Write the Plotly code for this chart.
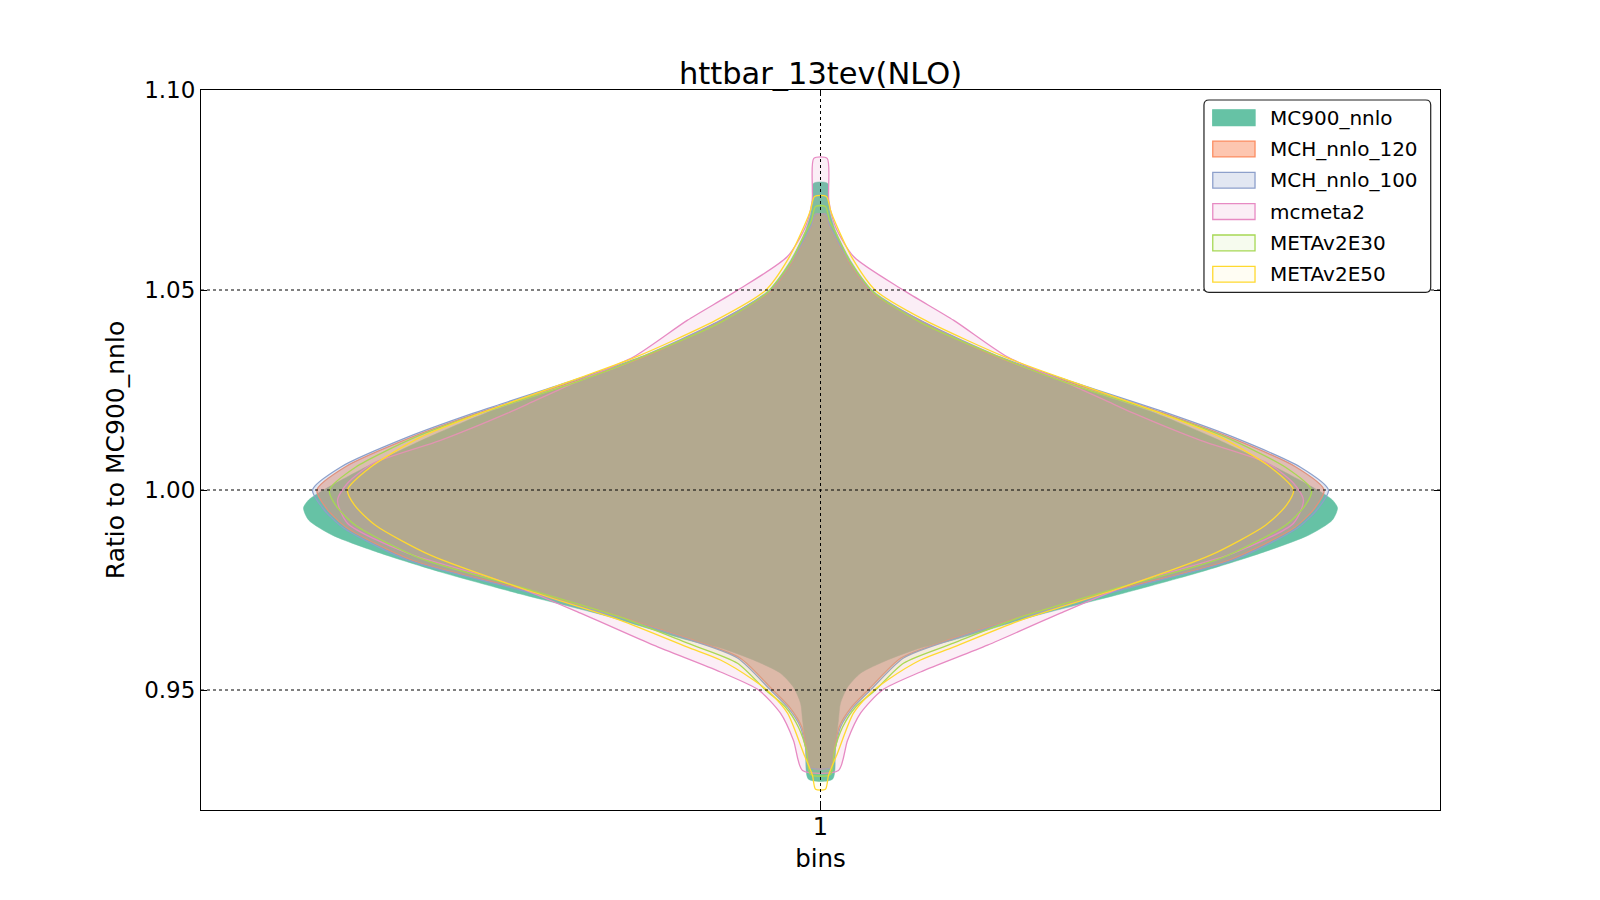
import plotly.graph_objects as go

# ---- data: violin profiles (ratio value, half-width of the density) ----
names = ["MC900_nnlo", "MCH_nnlo_120", "MCH_nnlo_100", "mcmeta2", "METAv2E30", "METAv2E50"]

mc900_y = [1.0767, 1.0724, 1.0689, 1.0649, 1.0574, 1.0499, 1.0424, 1.0324, 1.0267, 1.0192, 1.0132,
           1.0057, 1.0000, 0.9975, 0.9955, 0.9925, 0.9887, 0.9842, 0.9795, 0.9740, 0.9687, 0.9625,
           0.9605, 0.9575, 0.9542, 0.9507, 0.9467, 0.9425, 0.9357, 0.9277]
mc900_w = [0.0056, 0.0065, 0.0081, 0.0121, 0.0242, 0.0420, 0.0807, 0.1493, 0.1994, 0.2704, 0.3164,
           0.3672, 0.4011, 0.4132, 0.4173, 0.4132, 0.3939, 0.3551, 0.3067, 0.2421, 0.1751, 0.1073,
           0.0807, 0.0541, 0.0323, 0.0218, 0.0161, 0.0145, 0.0121, 0.0097]

mch_y = [1.0689, 1.0662, 1.0637, 1.0574, 1.0499, 1.0424, 1.0332, 1.0274, 1.0192, 1.0132, 1.0057,
         1.0000, 0.9955, 0.9907, 0.9825, 0.9750, 0.9680, 0.9627, 0.9580, 0.9500, 0.9457, 0.9407,
         0.9357, 0.9307]
mch120_w = [0.0040, 0.0070, 0.0110, 0.0220, 0.0395, 0.0795, 0.1430, 0.1965, 0.2770, 0.3300, 0.3840,
            0.4065, 0.3990, 0.3830, 0.3300, 0.2390, 0.1585, 0.1050, 0.0650, 0.0385, 0.0250, 0.0150,
            0.0115, 0.0085]
mch100_w = [0.0040, 0.0073, 0.0113, 0.0226, 0.0404, 0.0807, 0.1453, 0.1994, 0.2801, 0.3333, 0.3874,
            0.4100, 0.4019, 0.3858, 0.3333, 0.2421, 0.1614, 0.1073, 0.0670, 0.0404, 0.0266, 0.0161,
            0.0121, 0.0089]

meta2_y = [1.0829, 1.0724, 1.0658, 1.0583, 1.0499, 1.0424, 1.0333, 1.0267, 1.0224, 1.0192, 1.0124,
           1.0067, 1.0017, 0.9975, 0.9917, 0.9842, 0.9767, 0.9692, 0.9612, 0.9545, 0.9500, 0.9442,
           0.9374, 0.9299]
meta2_w = [0.0054, 0.0067, 0.0121, 0.0269, 0.0672, 0.1076, 0.1507, 0.1994, 0.2300, 0.2526, 0.3067,
           0.3608, 0.3818, 0.3898, 0.3818, 0.3333, 0.2526, 0.1937, 0.1348, 0.0807, 0.0500, 0.0323,
           0.0218, 0.0145]

e30_y = [1.0709, 1.0674, 1.0644, 1.0569, 1.0494, 1.0419, 1.0329, 1.0269, 1.0192, 1.0132, 1.0057,
         1.0000, 0.9962, 0.9912, 0.9829, 0.9757, 0.9682, 0.9617, 0.9567, 0.9500, 0.9457, 0.9407,
         0.9349, 0.9289]
e30_w = [0.0040, 0.0073, 0.0121, 0.0242, 0.0428, 0.0807, 0.1469, 0.1977, 0.2744, 0.3269, 0.3753,
         0.3963, 0.3914, 0.3753, 0.3228, 0.2421, 0.1614, 0.1073, 0.0670, 0.0444, 0.0282, 0.0178,
         0.0113, 0.0081]

e50_y = [1.0734, 1.0699, 1.0662, 1.0579, 1.0499, 1.0424, 1.0332, 1.0272, 1.0192, 1.0132, 1.0057,
         1.0000, 0.9962, 0.9912, 0.9837, 0.9755, 0.9674, 0.9607, 0.9575, 0.9525, 0.9492, 0.9442,
         0.9342, 0.9287, 0.9252]
e50_w = [0.0048, 0.0081, 0.0129, 0.0258, 0.0444, 0.0847, 0.1493, 0.2018, 0.2744, 0.3228, 0.3632,
         0.3818, 0.3761, 0.3592, 0.3148, 0.2421, 0.1614, 0.1073, 0.0807, 0.0541, 0.0404, 0.0266,
         0.0137, 0.0065, 0.0040]

position = 1
x_ticks = [1]
x_ticklabels = ["1"]
y_ticks = [0.95, 1.00, 1.05, 1.10]
y_ticklabels = ["0.95", "1.00", "1.05", "1.10"]

profiles = [(mc900_y, mc900_w), (mch_y, mch120_w), (mch_y, mch100_w),
            (meta2_y, meta2_w), (e30_y, e30_w), (e50_y, e50_w)]
line_colors = ["#66c2a5", "#fc8d62", "#8da0cb", "#e78ac3", "#a6d854", "#ffd92f"]
fill_colors = ["rgba(102,194,165,1.0)", "rgba(252,141,98,0.5)", "rgba(141,160,203,0.25)",
               "rgba(231,138,195,0.15)", "rgba(166,216,84,0.08)", "rgba(255,217,47,0.06)"]
legend_fill = ["rgba(102,194,165,1.0)", "rgba(252,141,98,0.5)", "rgba(141,160,203,0.25)",
               "rgba(231,138,195,0.15)", "rgba(166,216,84,0.1)", "rgba(255,217,47,0.06)"]

FONT = "DejaVu Sans"
fig = go.Figure()
for i, (name, (ys, ws)) in enumerate(zip(names, profiles)):
    xs = [position + w for w in ws] + [position - w for w in reversed(ws)]
    yy = list(ys) + list(reversed(ys))
    xs.append(xs[0]); yy.append(yy[0])
    fig.add_trace(go.Scatter(
        x=xs, y=yy, mode="lines", name=name, fill="toself",
        fillcolor=fill_colors[i],
        line=dict(color=line_colors[i], width=1.3 if i > 0 else 0.5, shape="spline", smoothing=0.7),
        showlegend=False, hoverinfo="skip"))

shapes = []
# dotted grid drawn above the fills
for yv in y_ticks[:-1]:
    shapes.append(dict(type="line", xref="paper", x0=0, x1=1, yref="y", y0=yv, y1=yv,
                       line=dict(color="black", width=1, dash="dot"), layer="above"))
for xv in x_ticks:
    shapes.append(dict(type="line", xref="x", x0=xv, x1=xv, yref="paper", y0=0, y1=1,
                       line=dict(color="black", width=1, dash="dot"), layer="above"))

# ---- matplotlib-style legend (paper coordinates) ----
PW, PH = 1239.0, 720.0          # plot area size in px
bx0, bx1, by0, by1 = 0.8095, 0.9925, 0.7190, 0.9861
rx, ry = 5 / PW, 5 / PH
legend_path = (f"M {bx0+rx},{by1} L {bx1-rx},{by1} Q {bx1},{by1} {bx1},{by1-ry} "
               f"L {bx1},{by0+ry} Q {bx1},{by0} {bx1-rx},{by0} L {bx0+rx},{by0} "
               f"Q {bx0},{by0} {bx0},{by0+ry} L {bx0},{by1-ry} Q {bx0},{by1} {bx0+rx},{by1} Z")
shapes.append(dict(type="path", xref="paper", yref="paper", path=legend_path,
                   fillcolor="white", line=dict(color="#222222", width=1.2), layer="above"))
annotations = []
for i, name in enumerate(names):
    yc = 1 - (27.7 + 31.3 * i) / PH       # row centre below plot top
    h = 7.9 / PH
    shapes.append(dict(type="rect", xref="paper", yref="paper",
                       x0=0.8166, x1=0.8507, y0=yc - h, y1=yc + h,
                       fillcolor=legend_fill[i], line=dict(color=line_colors[i], width=1.3),
                       layer="above"))
    annotations.append(dict(xref="paper", yref="paper", x=0.8612, y=yc, text=name,
                            showarrow=False, xanchor="left", yanchor="middle",
                            font=dict(family=FONT, size=20, color="black")))

fig.update_layout(
    width=1600, height=900,
    paper_bgcolor="white", plot_bgcolor="white",
    margin=dict(l=193, r=168, t=82, b=98),
    font=dict(family=FONT, color="black", size=20),
    title=dict(text="httbar_13tev(NLO)", x=0.5, xref="paper", xanchor="center",
               y=1 - 65 / 900, yref="container", yanchor="middle",
               font=dict(family=FONT, size=30.5, color="black")),
    shapes=shapes, annotations=annotations,
    showlegend=False,
)
fig.update_xaxes(range=[0.5, 1.5], tickvals=x_ticks, ticktext=x_ticklabels, showgrid=False, zeroline=False,
                 showline=True, linecolor="black", linewidth=1, mirror="ticks",
                 ticks="inside", ticklen=6, tickcolor="black", ticklabelstandoff=-5,
                 tickfont=dict(family=FONT, size=24),
                 title=dict(text="bins", font=dict(family=FONT, size=24.5), standoff=10))
fig.update_yaxes(range=[0.92, 1.10], tickvals=y_ticks, ticktext=y_ticklabels, showgrid=False,
                 zeroline=False, showline=True, linecolor="black", linewidth=1, mirror="ticks",
                 ticks="inside", ticklen=6, tickcolor="black",
                 tickfont=dict(family=FONT, size=23),
                 title=dict(text="Ratio to MC900_nnlo", font=dict(family=FONT, size=25), standoff=12))

fig.write_html("out.html")
